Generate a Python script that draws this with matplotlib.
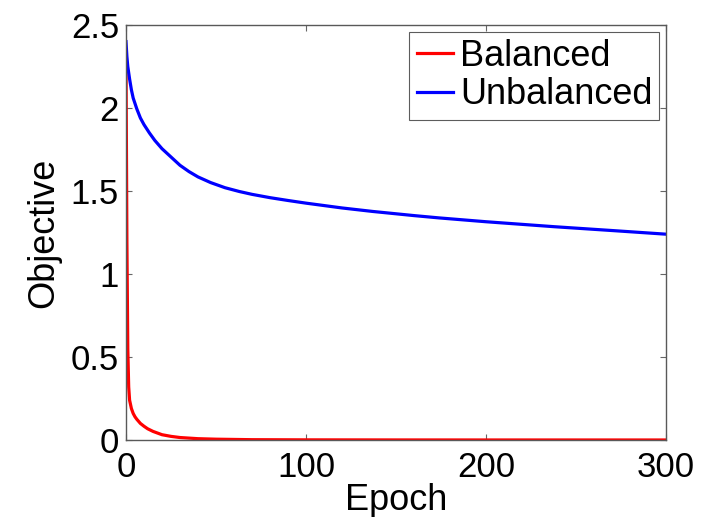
import numpy as np
from matplotlib import pyplot as plt

# values
epochs_bal = [0, 0.5, 1, 1.5, 2, 3, 4, 5, 6, 8, 10, 12, 15, 20, 25, 30, 40, 50, 70, 100, 150, 200, 300]
obj_bal = [2.30, 1.20, 0.55, 0.32, 0.24, 0.19, 0.16, 0.14, 0.125, 0.10, 0.083, 0.068, 0.052, 0.032, 0.022, 0.015, 0.008, 0.005, 0.002, 0.001, 0.0005, 0.0003, 0.0002]

epochs_unb = [0, 0.5, 1, 2, 3, 4, 6, 8, 10, 13, 16, 20, 24, 30, 35, 40, 47, 55, 63, 70, 80, 90, 100, 120, 137, 160, 174, 200, 238, 270, 300]
obj_unb = [2.40, 2.31, 2.25, 2.175, 2.11, 2.06, 1.995, 1.94, 1.90, 1.85, 1.805, 1.755, 1.715, 1.655, 1.617, 1.585, 1.551, 1.52, 1.497, 1.48, 1.46, 1.443, 1.427, 1.398, 1.377, 1.352, 1.338, 1.315, 1.285, 1.262, 1.24]

labels = ["Balanced", "Unbalanced"]
xticks = [0, 100, 200, 300]
yticks = [0, 0.5, 1, 1.5, 2, 2.5]
yticklabels = ["0", "0.5", "1", "1.5", "2", "2.5"]

plt.rcParams['font.family'] = ['Liberation Sans', 'DejaVu Sans']

fig = plt.figure(figsize=(7.09, 5.17), dpi=100)
ax = fig.add_axes([0.1777, 0.1489, 0.7616, 0.8027])

ax.plot(epochs_bal, obj_bal, color='#ff0000', lw=2.3, label=labels[0])
ax.plot(epochs_unb, obj_unb, color='#0000ff', lw=2.3, label=labels[1])

ax.set_xlim(0, 300)
ax.set_ylim(0, 2.5)
ax.set_xticks(xticks)
ax.set_yticks(yticks)
ax.set_yticklabels(yticklabels)
ax.tick_params(direction='in', length=4, width=0.8, color='0.4', labelsize=25,
               top=True, right=True, pad=5)
ax.tick_params(axis='x', pad=8)
for s in ax.spines.values():
    s.set_color('0.35')
    s.set_linewidth(1.0)

ax.set_xlabel("Epoch", fontsize=26, labelpad=-1)
ax.set_ylabel("Objective", fontsize=26, labelpad=7)

leg = ax.legend(loc='upper right', fontsize=26, frameon=True, fancybox=False,
                handlelength=1.0, handletextpad=0.2, borderpad=0.2,
                labelspacing=0.1, borderaxespad=0.18)
leg.get_frame().set_edgecolor('0.2')
leg.get_frame().set_linewidth(0.8)

fig.savefig("out.png", dpi=100)
